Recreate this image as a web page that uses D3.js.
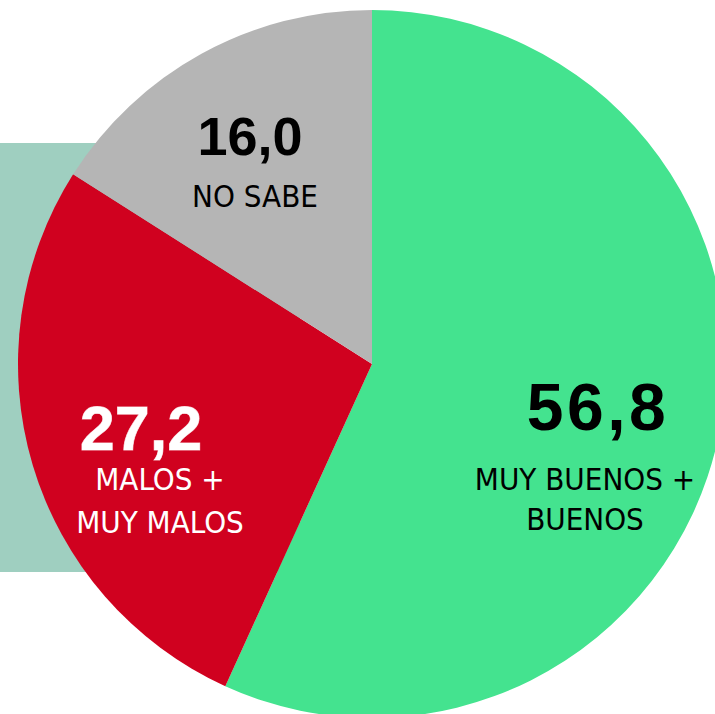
<!DOCTYPE html>
<html>
<head>
<meta charset="utf-8">
<script src="https://cdn.jsdelivr.net/npm/d3@7"></script>
<style>
  html, body { margin: 0; padding: 0; background: #ffffff; }
  svg { display: block; }
</style>
</head>
<body>
<svg id="chart" width="715" height="714"></svg>
<script>
const categories = ["MUY BUENOS + BUENOS", "MALOS + MUY MALOS", "NO SABE"];
const values = [56.8, 27.2, 16.0];
const valueLabels = ["56,8", "27,2", "16,0"];
const labelLines = [["MUY BUENOS +", "BUENOS"], ["MALOS +", "MUY MALOS"], ["NO SABE"]];
const colors = ["#44e38f", "#d0011f", "#b5b5b5"];
const textColors = ["#000000", "#ffffff", "#000000"];

const svg = d3.select("#chart");
const cx = 372, cy = 364, R = 354;

// background panel
svg.append("rect")
  .attr("x", 0).attr("y", 143)
  .attr("width", 300).attr("height", 429)
  .attr("fill", "#9fcfc0");

const pie = d3.pie().sort(null).value(d => d)(values);
const arc = d3.arc().innerRadius(0).outerRadius(R);

const g = svg.append("g").attr("transform", `translate(${cx},${cy})`);
g.selectAll("path").data(pie).join("path")
  .attr("d", arc)
  .attr("fill", (d, i) => colors[i]);

// label positions (absolute) per slice
const numPos = [[598, 430, 66, 3.5], [141, 450, 63, 0], [250, 155, 54, 0]];
const linePos = [[585, 490, 40], [160, 490, 43], [255, 207, 0]];

const numFont = "'Liberation Sans', Arial, Helvetica, sans-serif";
const lblFont = "'Liberation Sans Narrow', 'Arial Narrow', 'DejaVu Sans Condensed', sans-serif";

categories.forEach((c, i) => {
  const [nx, ny, ns, ls] = numPos[i];
  const t = svg.append("text")
    .attr("x", nx).attr("y", ny)
    .attr("text-anchor", "middle")
    .attr("font-family", numFont)
    .attr("font-weight", "bold")
    .attr("font-size", ns)
    .attr("letter-spacing", ls)
    .attr("fill", textColors[i])
    .text(valueLabels[i]);
  if (i === 1) t.attr("stroke", "#f4b8bf").attr("stroke-width", 0.8).attr("paint-order", "stroke");
  const [lx, ly, lh] = linePos[i];
  labelLines[i].forEach((ln, k) => {
    svg.append("text")
      .attr("x", lx).attr("y", ly + k * lh)
      .attr("text-anchor", "middle")
      .attr("font-family", lblFont)
      .attr("font-size", 31)
      .attr("fill", textColors[i])
      .text(ln);
  });
});
</script>
</body>
</html>
